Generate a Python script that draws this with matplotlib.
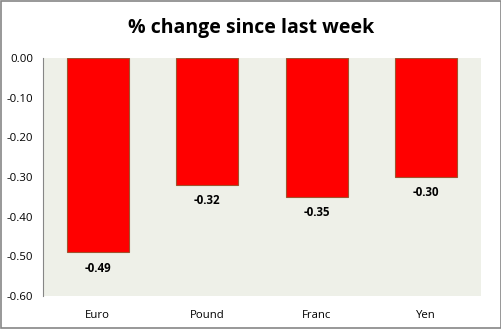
import matplotlib.pyplot as plt
from matplotlib.patches import Rectangle

plt.rcParams['font.family'] = ['Open Sans', 'DejaVu Sans']

currencies = ['Euro', 'Pound', 'Franc', 'Yen']
changes = [-0.49, -0.32, -0.35, -0.30]
yticks = [0.0, -0.1, -0.2, -0.3, -0.4, -0.5, -0.6]

fig = plt.figure(figsize=(5.02, 3.29), dpi=100)
ax = fig.add_axes([43 / 502, 1 - 296 / 329, 438 / 502, 238 / 329])
ax.set_facecolor('#eef0e8')

x = range(len(currencies))
ax.bar(x, changes, width=0.57, color='#ff0000', edgecolor='#a0522d', linewidth=0.8)
for xi, v in zip(x, changes):
    ax.text(xi, v - 0.04, f'{v:.2f}', ha='center', va='center', fontsize=8.3, fontweight='bold')

ax.set_xlim(-0.5, len(currencies) - 0.5)
ax.set_ylim(-0.6, 0.0)
ax.set_yticks(yticks)
ax.set_yticklabels([f'{t:.2f}' for t in yticks], fontsize=8.2)
ax.set_xticks(list(x))
ax.set_xticklabels(currencies, fontsize=8.2)
ax.tick_params(axis='both', length=0)
ax.tick_params(axis='x', pad=10)
ax.tick_params(axis='y', pad=7)
for side in ['top', 'right', 'bottom']:
    ax.spines[side].set_visible(False)
ax.spines['left'].set_color('#868686')

fig.text(0.5, 1 - 28 / 329, '% change since last week', ha='center', va='center',
         fontsize=14, fontweight='bold')
fig.patches.append(Rectangle((0.001, 0.002), 0.997, 0.995, transform=fig.transFigure,
                             fill=False, edgecolor='#868686', linewidth=1.2))

fig.savefig('out.png', dpi=100)
